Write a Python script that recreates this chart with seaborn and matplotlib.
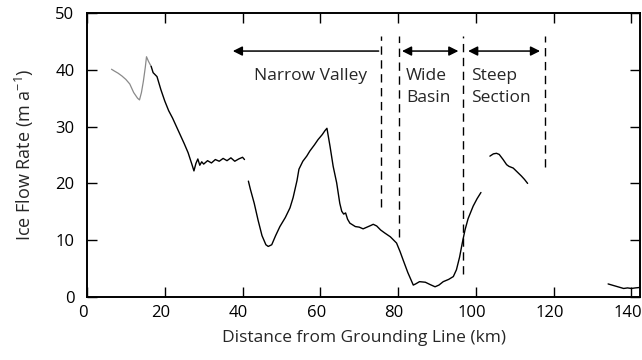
import matplotlib
matplotlib.use("Agg")
import matplotlib.pyplot as plt
import matplotlib.transforms as mtransforms
import seaborn as sns
import pandas as pd

# ---- data ----
seg_a_x = [6.3, 7, 8, 9, 10, 11, 12, 13, 13.5, 14, 14.5, 15, 15.3, 15.8, 16.5]
seg_a_y = [40.1, 39.8, 39.4, 38.9, 38.3, 37.5, 36.0, 35.0, 34.7, 36.0, 38.0, 40.5, 42.3, 41.5, 40.6]

seg_b_x = [16.5, 17, 18, 19, 20, 21, 22, 23, 24, 25, 26, 27, 27.5, 28, 28.5, 29, 29.5, 30, 31, 32,
           33, 34, 35, 36, 37, 38, 39, 40, 40.5]
seg_b_y = [40.6, 39.5, 38.8, 36.5, 34.5, 32.8, 31.5, 30.0, 28.5, 27.0, 25.4, 23.3, 22.2, 23.5, 24.3,
           23.2, 23.8, 23.4, 24.0, 23.6, 24.2, 23.9, 24.4, 24.0, 24.5, 23.9, 24.3, 24.6, 24.2]

seg_c_x = [41.5, 42, 43, 44, 45, 46, 46.6, 47.5, 48.5, 49.6, 51, 52.2, 53, 54, 54.5, 55.5, 56.5,
           57.3, 58.5, 59.4, 60.5, 61.2, 61.7, 62.5, 63.3, 64.2, 65, 65.5, 66, 66.5, 67, 67.6, 69,
           70, 71, 72, 73, 73.6, 74.5, 75.5, 76.5, 78, 79.6, 80.5, 81.3, 82.5, 83.9, 84.5, 85.5,
           87, 88.2, 89.5, 90.5, 91.6, 93, 94.2, 95, 95.8, 96.5, 97.2, 98, 99.3, 100.3, 101.3]
seg_c_y = [20.4, 19.0, 16.5, 13.5, 10.8, 9.2, 8.9, 9.2, 10.8, 12.4, 14.0, 15.7, 17.5, 20.5, 22.5,
           23.9, 24.8, 25.7, 26.8, 27.7, 28.6, 29.3, 29.7, 26.5, 23.0, 20.1, 16.5, 15.1, 14.6,
           14.8, 13.7, 13.0, 12.4, 12.3, 12.0, 12.3, 12.6, 12.8, 12.5, 11.8, 11.3, 10.6, 9.5,
           8.0, 6.5, 4.3, 2.1, 2.3, 2.7, 2.6, 2.2, 1.8, 2.1, 2.7, 3.1, 3.6, 4.8, 7.0, 9.5, 11.8,
           13.8, 16.0, 17.3, 18.4]

seg_d_x = [103.6, 104.5, 105.3, 106, 107, 107.9, 108.5, 109.6, 110.5, 111.7, 112.5, 113.3]
seg_d_y = [24.8, 25.2, 25.3, 25.1, 24.2, 23.3, 23.0, 22.7, 22.1, 21.3, 20.7, 20.0]

seg_e_x = [134, 135, 136, 137, 138, 139, 140, 141, 142.5]
seg_e_y = [2.3, 2.1, 1.9, 1.7, 1.5, 1.6, 1.5, 1.6, 1.7]

# section boundaries (dashed lines): x, bottom, top
bound_x = [75.6, 80.2, 96.7, 117.7]
bound_bottom = [15.9, 10.6, 4.0, 22.8]
bound_top = [46.0, 46.0, 46.0, 46.0]

section_labels = ["Narrow Valley", "Wide\nBasin", "Steep\nSection"]

# ---- figure ----
sns.set_theme(style="ticks")
plt.rcParams['font.family'] = ['Open Sans', 'DejaVu Sans']

fig = plt.figure(figsize=(6.42, 3.60), dpi=100)
ax = fig.add_axes([87 / 642, 1 - 297 / 360, (640 - 87) / 642, (297 - 13) / 360])

segments = [(seg_a_x, seg_a_y, "#8a8a8a", 0.9),
            (seg_b_x, seg_b_y, "black", 1.0),
            (seg_c_x, seg_c_y, "black", 1.0),
            (seg_d_x, seg_d_y, "black", 1.0),
            (seg_e_x, seg_e_y, "black", 1.0)]
for sx, sy, col, lw in segments:
    df = pd.DataFrame({"x": sx, "y": sy})
    sns.lineplot(data=df, x="x", y="y", ax=ax, color=col, linewidth=lw, sort=False,
                 estimator=None)

for bx, bb, bt in zip(bound_x, bound_bottom, bound_top):
    ax.plot([bx, bx], [bb, bt], color="black", linewidth=1.0, linestyle=(0, (6, 4)))

arrow_y = 43.3
akw = dict(color="black", lw=1.1, shrinkA=0, shrinkB=0, mutation_scale=14)
ax.annotate("", xy=(37.5, arrow_y), xytext=(75.0, arrow_y),
            arrowprops=dict(arrowstyle="-|>", **akw))
ax.annotate("", xy=(81.0, arrow_y), xytext=(95.5, arrow_y),
            arrowprops=dict(arrowstyle="<|-|>", **akw))
ax.annotate("", xy=(98.0, arrow_y), xytext=(116.5, arrow_y),
            arrowprops=dict(arrowstyle="<|-|>", **akw))

ax.text(57.6, 38.9, section_labels[0], ha="center", va="center", fontsize=12.5)
ax.text(82.0, 37.0, section_labels[1], ha="left", va="center", fontsize=12.5, linespacing=1.45)
ax.text(98.8, 37.0, section_labels[2], ha="left", va="center", fontsize=12.5, linespacing=1.45)

ax.set_xlim(0, 142.2)
ax.set_ylim(0, 50)
ax.set_xticks(range(0, 141, 20))
ax.set_yticks(range(0, 51, 10))
ax.tick_params(direction="in", length=7, width=1.0, top=True, right=True,
               labelsize=12, colors="black")
ax.tick_params(axis="x", pad=6)
ax.tick_params(axis="y", pad=9)
# reference tick labels sit slightly left of their ticks
shift = mtransforms.ScaledTranslation(-4 / 100, 0, fig.dpi_scale_trans)
for lbl in ax.get_xticklabels():
    lbl.set_transform(lbl.get_transform() + shift)
for s in ax.spines.values():
    s.set_visible(True)
    s.set_linewidth(1.4)
    s.set_color("black")
ax.set_xlabel("Distance from Grounding Line (km)", fontsize=12.5, labelpad=6)
ax.set_ylabel("Ice Flow Rate (m a$^{\\mathregular{-1}}$)", fontsize=13, labelpad=14)

fig.savefig("out.png", dpi=100)
